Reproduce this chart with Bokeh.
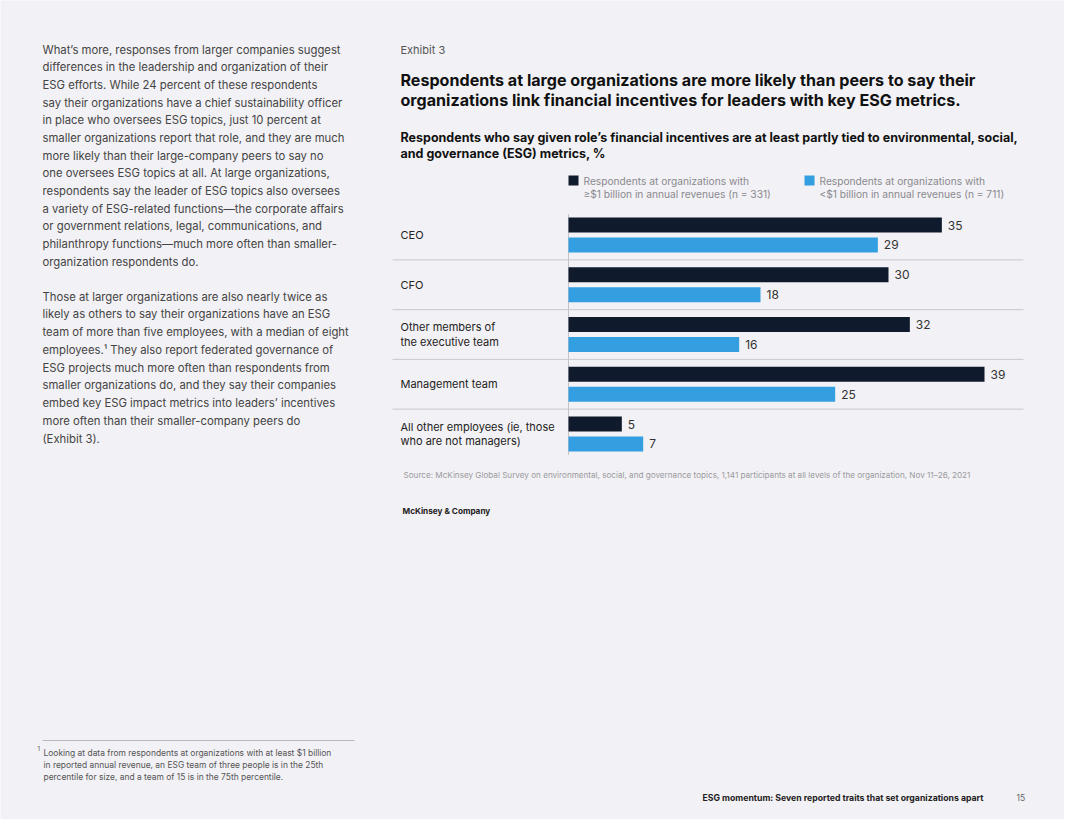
from bokeh.plotting import figure
from bokeh.models import ColumnDataSource, Range1d
from bokeh.transform import dodge
from bokeh.core.properties import value
from bokeh.embed import file_html
from bokeh.resources import INLINE

# ---------------- data ----------------
categories = [
    "CEO",
    "CFO",
    "Other members of\nthe executive team",
    "Management team",
    "All other employees (ie, those\nwho are not managers)",
]
large_orgs = [35, 30, 32, 39, 5]
small_orgs = [29, 18, 16, 25, 7]
series_large = ["Respondents at organizations with", "\u2265$1 billion in annual revenues (n = 331)"]
series_small = ["Respondents at organizations with", "<$1 billion in annual revenues (n = 711)"]

para1 = [
    "What\u2019s more, responses from larger companies suggest",
    "differences in the leadership and organization of their",
    "ESG efforts. While 24 percent of these respondents",
    "say their organizations have a chief sustainability officer",
    "in place who oversees ESG topics, just 10 percent at",
    "smaller organizations report that role, and they are much",
    "more likely than their large-company peers to say no",
    "one oversees ESG topics at all. At large organizations,",
    "respondents say the leader of ESG topics also oversees",
    "a variety of ESG-related functions\u2014the corporate affairs",
    "or government relations, legal, communications, and",
    "philanthropy functions\u2014much more often than smaller-",
    "organization respondents do.",
]
para2 = [
    "Those at larger organizations are also nearly twice as",
    "likely as others to say their organizations have an ESG",
    "team of more than five employees, with a median of eight",
    "employees.\u00b9 They also report federated governance of",
    "ESG projects much more often than respondents from",
    "smaller organizations do, and they say their companies",
    "embed key ESG impact metrics into leaders\u2019 incentives",
    "more often than their smaller-company peers do",
    "(Exhibit 3).",
]
footnote = [
    "Looking at data from respondents at organizations with at least $1 billion",
    "in reported annual revenue, an ESG team of three people is in the 25th",
    "percentile for size, and a team of 15 is in the 75th percentile.",
]
title_lines = [
    "Respondents at large organizations are more likely than peers to say their",
    "organizations link financial incentives for leaders with key ESG metrics.",
]
subtitle_lines = [
    "Respondents who say given role\u2019s financial incentives are at least partly tied to environmental, social,",
    "and governance (ESG) metrics, %",
]
source_text = ("Source: McKinsey Global Survey on environmental, social, and governance topics, "
               "1,141 participants at all levels of the organization, Nov 11\u201326, 2021")

# ---------------- style / layout ----------------
BG = "#f2f1f5"
DARK = "#0f1a2c"
BLUE = "#349fe0"
FONT = "Inter"
W, H = 1064, 819
M = 8  # page margin

PX_PER_UNIT = 10.667          # pixels per percentage point
ZERO_X = 576 - M              # x pixel of value 0
GROUP_PX = 49.75              # pixels per category band
FIRST_Y = 242.5 - M           # y pixel of first category center

val_range = Range1d(-ZERO_X / PX_PER_UNIT, (W - ZERO_X) / PX_PER_UNIT)
cat_range = Range1d((H - FIRST_Y) / GROUP_PX, -FIRST_Y / GROUP_PX)  # inverted: first category on top

p = figure(
    width=W, height=H,
    x_range=Range1d(0, W), y_range=Range1d(H, 0),
    x_axis_location=None, y_axis_location=None,
    toolbar_location=None, output_backend="svg",
    min_border=0, min_border_left=0, min_border_right=0,
    min_border_top=0, min_border_bottom=0,
    background_fill_color=BG, border_fill_color=BG,
    outline_line_color=None,
)
p.extra_x_ranges = {"val": val_range}
p.extra_y_ranges = {"cat": cat_range}
p.xgrid.visible = False
p.ygrid.visible = False

src = ColumnDataSource(dict(
    idx=list(range(len(categories))),
    cat=categories,
    large=large_orgs,
    small=small_orgs,
    large_txt=[str(v) for v in large_orgs],
    small_txt=[str(v) for v in small_orgs],
))

sep_left = (400 - M - ZERO_X) / PX_PER_UNIT
sep_right = (1031 - M - ZERO_X) / PX_PER_UNIT

# separators between category bands
sep = ColumnDataSource(dict(idx=list(range(len(categories) - 1))))
p.segment(x0=sep_left, x1=sep_right, y0=dodge("idx", 0.5), y1=dodge("idx", 0.5),
          source=sep, x_range_name="val", y_range_name="cat",
          line_color="#c9c8cd", line_width=1)

# zero line
zl = ColumnDataSource(dict(top=[0], bot=[len(categories) - 1]))
p.segment(x0=0, x1=0, y0=dodge("top", -0.42), y1=dodge("bot", 0.42), source=zl,
          x_range_name="val", y_range_name="cat",
          line_color="#c4c3c8", line_width=1)

# bars
p.hbar(y=dodge("idx", -0.2), left=0, right="large", height=0.3, source=src,
       x_range_name="val", y_range_name="cat", fill_color=DARK, line_color=None)
p.hbar(y=dodge("idx", 0.2), left=0, right="small", height=0.3, source=src,
       x_range_name="val", y_range_name="cat", fill_color=BLUE, line_color=None)

# value labels
p.text(x="large", y=dodge("idx", -0.2), text="large_txt", source=src,
       x_range_name="val", y_range_name="cat",
       x_offset=6, text_baseline="middle", text_align="left",
       text_font=value(FONT), text_font_size="12px", text_color="#333333")
p.text(x="small", y=dodge("idx", 0.2), text="small_txt", source=src,
       x_range_name="val", y_range_name="cat",
       x_offset=6, text_baseline="middle", text_align="left",
       text_font=value(FONT), text_font_size="12px", text_color="#333333")

# category labels
p.text(x=sep_left + 8 / PX_PER_UNIT, y="idx", text="cat", source=src,
       x_range_name="val", y_range_name="cat",
       text_baseline="middle", text_align="left", text_line_height=1.03,
       text_font=value(FONT), text_font_size="11px", text_color="#222222")


def add_text(s, px, py, size, color, style="normal", align="left"):
    p.text(x=[px - M], y=[py - M], text=[s], text_font=value(FONT),
           text_font_size=f"{size}px", text_color=color, text_font_style=style,
           text_align=align, text_baseline="middle")


# left column text
for i, s in enumerate(para1):
    add_text(s, 50, 57 + i * 17.67, 11.3, "#444444")
for i, s in enumerate(para2):
    add_text(s, 50, 304 + i * 17.75, 11.3, "#444444")

# footnote
p.segment(x0=[50 - M], x1=[362 - M], y0=[748 - M], y1=[748 - M],
          line_color="#b9b8bd", line_width=1)
add_text("1", 45, 756, 6, "#555555")
for i, s in enumerate(footnote):
    add_text(s, 51, 760 + i * 12, 8.45, "#555555")

# exhibit header
add_text("Exhibit 3", 408, 57, 11, "#555555")
for i, s in enumerate(title_lines):
    add_text(s, 408, 87 + i * 20, 16.1, "#111111", "bold")
for i, s in enumerate(subtitle_lines):
    add_text(s, 408, 145 + i * 16, 12.5, "#111111", "bold")

# legend
p.quad(left=[576 - M, 812 - M], right=[586 - M, 822 - M],
       top=[183 - M, 183 - M], bottom=[193 - M, 193 - M],
       fill_color=[DARK, BLUE], line_color=None)
for i, s in enumerate(series_large):
    add_text(s, 591, 188 + i * 13.5, 10.2, "#8a8a8e")
for i, s in enumerate(series_small):
    add_text(s, 827, 188 + i * 13.5, 10.2, "#8a8a8e")

# source & brand
add_text(source_text, 411, 482, 8.15, "#9a9a9e")
add_text("McKinsey & Company", 410, 518, 8.2, "#222222", "bold")

# footer
add_text("ESG momentum: Seven reported traits that set organizations apart", 710, 805, 8.7, "#222222", "bold")
add_text("15", 1024, 805, 8.5, "#666666")

open("out.html", "w").write(file_html(p, INLINE))
